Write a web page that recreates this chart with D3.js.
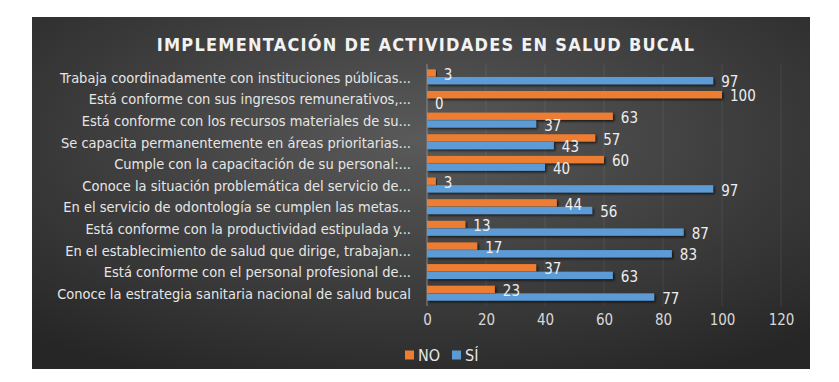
<!DOCTYPE html>
<html>
<head>
<meta charset="utf-8">
<script src="https://cdn.jsdelivr.net/npm/d3@7"></script>
<style>
  body { margin: 0; background: #fff; }
  svg text { font-family: "DejaVu Sans", sans-serif; font-stretch: condensed; }
</style>
</head>
<body>
<svg id="chart" width="839" height="382"></svg>
<script>
const categories = [
  "Trabaja coordinadamente con instituciones públicas...",
  "Está conforme con sus ingresos remunerativos,...",
  "Está conforme con los recursos materiales de su...",
  "Se capacita permanentemente en áreas prioritarias...",
  "Cumple con la capacitación de su personal:...",
  "Conoce la situación problemática del servicio de...",
  "En el servicio de odontología se cumplen las metas...",
  "Está conforme con la productividad estipulada y...",
  "En el establecimiento de salud que dirige, trabajan...",
  "Está conforme con el personal profesional de...",
  "Conoce la estrategia sanitaria nacional de salud bucal"
];
const seriesNames = ["NO", "SÍ"];
const noValues = [3, 100, 63, 57, 60, 3, 44, 13, 17, 37, 23];
const siValues = [97, 0, 37, 43, 40, 97, 56, 87, 83, 63, 77];
const xTicks = [0, 20, 40, 60, 80, 100, 120];
const colors = ["#ED7D31", "#5B9BD5"];

const svg = d3.select("#chart");

// background panel
const defs = svg.append("defs");
const grad = defs.append("radialGradient")
  .attr("id", "bg")
  .attr("cx", "50%").attr("cy", "35%").attr("r", "75%");
grad.append("stop").attr("offset", "0%").attr("stop-color", "#5a5a5a");
grad.append("stop").attr("offset", "100%").attr("stop-color", "#262626");

const shadow = defs.append("filter").attr("id", "shadow")
  .attr("x", "-5%").attr("y", "-50%").attr("width", "110%").attr("height", "200%");
shadow.append("feDropShadow")
  .attr("dx", 1.5).attr("dy", 1.5).attr("stdDeviation", 1)
  .attr("flood-color", "#000").attr("flood-opacity", 0.7);

svg.append("rect")
  .attr("x", 32).attr("y", 17)
  .attr("width", 778).attr("height", 352)
  .attr("fill", "url(#bg)");

// title
svg.append("text")
  .attr("x", 426).attr("y", 51)
  .attr("text-anchor", "middle")
  .attr("fill", "#f2f2f2")
  .style("font-size", "18px")
  .style("font-weight", "bold")
  .style("letter-spacing", "1.25px")
  .text("IMPLEMENTACIÓN DE ACTIVIDADES EN SALUD BUCAL");

// scales
const x = d3.scaleLinear().domain([0, 120]).range([427, 781]);
const y = d3.scaleBand().domain(categories).range([66, 304])
  .paddingInner(0.28).paddingOuter(0.14);
const ySub = d3.scaleBand().domain(seriesNames).range([0, y.bandwidth()]).padding(0.04);
const color = d3.scaleOrdinal().domain(seriesNames).range(colors);

// gridlines
svg.append("g")
  .selectAll("line")
  .data(xTicks.slice(1))
  .join("line")
  .attr("x1", d => x(d)).attr("x2", d => x(d))
  .attr("y1", 64).attr("y2", 306)
  .attr("stroke", "#ffffff").attr("stroke-opacity", 0.08);

// vertical axis line
svg.append("line")
  .attr("x1", x(0)).attr("x2", x(0))
  .attr("y1", 64).attr("y2", 306)
  .attr("stroke", "#8a8a8a").attr("stroke-width", 1);

// x axis
const xAxis = svg.append("g")
  .attr("transform", "translate(0,314)")
  .call(d3.axisBottom(x).tickValues(xTicks).tickSize(0).tickPadding(0));
xAxis.select(".domain").remove();
xAxis.selectAll("text")
  .attr("fill", "#d9d9d9")
  .attr("dy", "0.75em")
  .style("font-size", "15px")
  .style("font-family", "'DejaVu Sans', sans-serif");

// y axis labels
const yAxis = svg.append("g")
  .attr("transform", `translate(${x(0) - 16},0)`)
  .call(d3.axisLeft(y).tickSize(0).tickPadding(0));
yAxis.select(".domain").remove();
yAxis.selectAll("text")
  .attr("fill", "#e6e6e6")
  .attr("dy", "0.4em")
  .style("font-size", "14.5px")
  .style("font-family", "'DejaVu Sans', sans-serif");

// bars
const rows = categories.map((c, i) => ({
  cat: c,
  vals: [
    { s: seriesNames[0], v: noValues[i] },
    { s: seriesNames[1], v: siValues[i] }
  ]
}));

const groups = svg.append("g").selectAll("g")
  .data(rows)
  .join("g")
  .attr("transform", d => `translate(0,${y(d.cat)})`);

groups.selectAll("rect")
  .data(d => d.vals)
  .join("rect")
  .attr("x", x(0))
  .attr("y", d => ySub(d.s))
  .attr("width", d => x(d.v) - x(0))
  .attr("height", ySub.bandwidth())
  .attr("fill", d => color(d.s))
  .attr("filter", "url(#shadow)");

groups.selectAll("text")
  .data(d => d.vals)
  .join("text")
  .attr("x", d => x(d.v) + 8)
  .attr("y", d => ySub(d.s) + ySub.bandwidth() / 2 + 1.5)
  .attr("dy", "0.35em")
  .attr("fill", "#eeeeee")
  .style("font-size", "15px")
  .style("font-family", "'DejaVu Sans', sans-serif")
  .text(d => d.v);

// legend
const legend = svg.append("g").attr("transform", "translate(405,355)");
const li = legend.selectAll("g")
  .data(seriesNames)
  .join("g")
  .attr("transform", (d, i) => `translate(${i * 47},0)`);
li.append("rect")
  .attr("x", 0).attr("y", -4.5)
  .attr("width", 9).attr("height", 9)
  .attr("fill", d => color(d));
li.append("text")
  .attr("x", 13).attr("dy", "0.36em")
  .attr("fill", "#e6e6e6")
  .style("font-size", "16px")
  .style("font-family", "'DejaVu Sans', sans-serif")
  .text(d => d);
</script>
</body>
</html>
